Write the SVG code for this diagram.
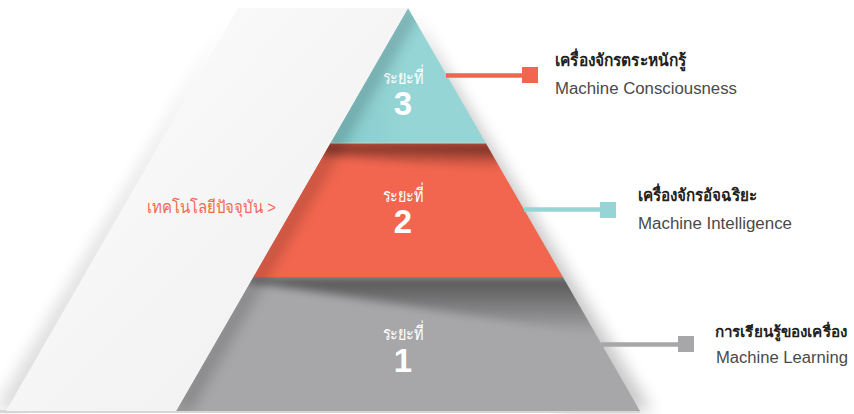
<svg xmlns="http://www.w3.org/2000/svg" width="854" height="414" viewBox="0 0 854 414">
<defs>
<style>
.stage{font-family:"Liberation Sans","Noto Sans","DejaVu Sans",sans-serif;fill:#ffffff;font-size:19px;font-weight:normal;text-anchor:middle}
.num{font-family:"Liberation Sans","Noto Sans",sans-serif;fill:#ffffff;font-size:33px;font-weight:bold;text-anchor:middle}
.th{font-family:"Liberation Sans","Noto Sans","DejaVu Sans",sans-serif;fill:#231f20;font-size:17px;font-weight:bold}
.en{font-family:"Liberation Sans","Noto Sans",sans-serif;fill:#4a4a4a;font-size:16px}
.panelText{font-family:"Liberation Sans","Noto Sans","DejaVu Sans",sans-serif;fill:#f26750;font-size:17px}
</style>
<filter id="blur8" x="-50%" y="-50%" width="200%" height="200%"><feGaussianBlur stdDeviation="8"/></filter>
<filter id="blur4" x="-50%" y="-50%" width="200%" height="200%"><feGaussianBlur stdDeviation="4"/></filter>
<linearGradient id="panelGrad" x1="0" y1="0" x2="1" y2="1">
<stop offset="0" stop-color="#fdfdfd"/><stop offset="1" stop-color="#eeeeee"/>
</linearGradient>
<linearGradient id="tealGrad" x1="0" y1="0" x2="1" y2="0">
<stop offset="0" stop-color="#86cbcc"/><stop offset="0.5" stop-color="#95d5d6"/><stop offset="1" stop-color="#95d5d6"/>
</linearGradient>
<linearGradient id="shadeDown" x1="0" y1="0" x2="0" y2="1">
<stop offset="0" stop-color="#000" stop-opacity="0.5"/><stop offset="1" stop-color="#000" stop-opacity="0"/>
</linearGradient>
<clipPath id="redClip"><polygon points="330.3,143 485.7,143 562.9,277 253.1,277"/></clipPath>
<clipPath id="grayClip"><polygon points="253.1,277 562.9,277 640,411 176,411"/></clipPath>
<clipPath id="pyrClip"><polygon points="408,8 640,411 176,411"/></clipPath>
</defs>

<!-- shadows -->
<polygon points="412,14 652,411 560,411" fill="#000" opacity="0.22" filter="url(#blur8)"/>
<polygon points="232,14 20,411 -6,411" fill="#000" opacity="0.14" filter="url(#blur8)"/>
<rect x="0" y="410" width="640" height="3" fill="#d6d6d6"/>

<g id="layer3">
<polygon points="408,8 485.7,143 330.3,143" fill="url(#tealGrad)"/>
<text class="stage" x="403" y="84" textLength="41" lengthAdjust="spacingAndGlyphs">ระยะที่</text>
<text class="num" x="403" y="115">3</text>
</g>

<g id="layer2">
<polygon points="330.3,143 485.7,143 562.9,277 253.1,277" fill="#f2664f"/>
<g clip-path="url(#redClip)">
<polygon points="320,143 500,143 500,170 320,155" fill="url(#shadeDown)" filter="url(#blur4)"/>
<polygon points="320,143 560,143 560,160" fill="#000" opacity="0.12" filter="url(#blur4)"/>
</g>
<line x1="330.3" y1="143" x2="485.7" y2="143" stroke="#b9d9d6" stroke-width="1.2"/>
<text class="stage" x="403" y="202" textLength="41" lengthAdjust="spacingAndGlyphs">ระยะที่</text>
<text class="num" x="403" y="233">2</text>
</g>

<g id="layer1">
<polygon points="253.1,277 562.9,277 640,411 176,411" fill="#a7a7a9"/>
<g clip-path="url(#grayClip)">
<polygon points="240,277 600,277 600,335 250,282" fill="url(#shadeDown)" filter="url(#blur4)"/>
</g>
<text class="stage" x="403" y="340" textLength="41" lengthAdjust="spacingAndGlyphs">ระยะที่</text>
<text class="num" x="403" y="372">1</text>
</g>

<!-- panel shadow onto pyramid -->
<g clip-path="url(#pyrClip)">
<polygon points="408,8 418,8 186,411 176,411" fill="#000" opacity="0.35" filter="url(#blur8)"/>
</g>

<g id="panel">
<polygon points="238,8 408,8 176,411 6,411" fill="url(#panelGrad)"/>
<text class="panelText" x="147" y="213" textLength="129" lengthAdjust="spacingAndGlyphs">เทคโนโลยีปัจจุบัน &gt;</text>
</g>

<g id="connectors">
<line x1="446" y1="75.5" x2="528" y2="75.5" stroke="#f2664f" stroke-width="4.5"/>
<rect x="522" y="67" width="16" height="16" fill="#f2664f"/>
<line x1="524" y1="209.5" x2="606" y2="209.5" stroke="#95d5d6" stroke-width="4.5"/>
<rect x="600" y="202" width="16" height="16" fill="#95d5d6"/>
<line x1="601" y1="344.5" x2="684" y2="344.5" stroke="#a7a7a9" stroke-width="4.5"/>
<rect x="678" y="336" width="16" height="16" fill="#a7a7a9"/>
</g>

<g id="label3">
<text class="th" x="555" y="66" textLength="131" lengthAdjust="spacingAndGlyphs">เครื่องจักรตระหนักรู้</text>
<text class="en" x="555" y="94" textLength="182" lengthAdjust="spacingAndGlyphs">Machine Consciousness</text>
</g>
<g id="label2">
<text class="th" x="638" y="201" textLength="119" lengthAdjust="spacingAndGlyphs">เครื่องจักรอัจฉริยะ</text>
<text class="en" x="638" y="229" textLength="154" lengthAdjust="spacingAndGlyphs">Machine Intelligence</text>
</g>
<g id="label1">
<text class="th" x="715" y="337" style="font-size:15px" textLength="132" lengthAdjust="spacingAndGlyphs">การเรียนรู้ของเครื่อง</text>
<text class="en" x="716" y="363" textLength="132" lengthAdjust="spacingAndGlyphs">Machine Learning</text>
</g>
</svg>
